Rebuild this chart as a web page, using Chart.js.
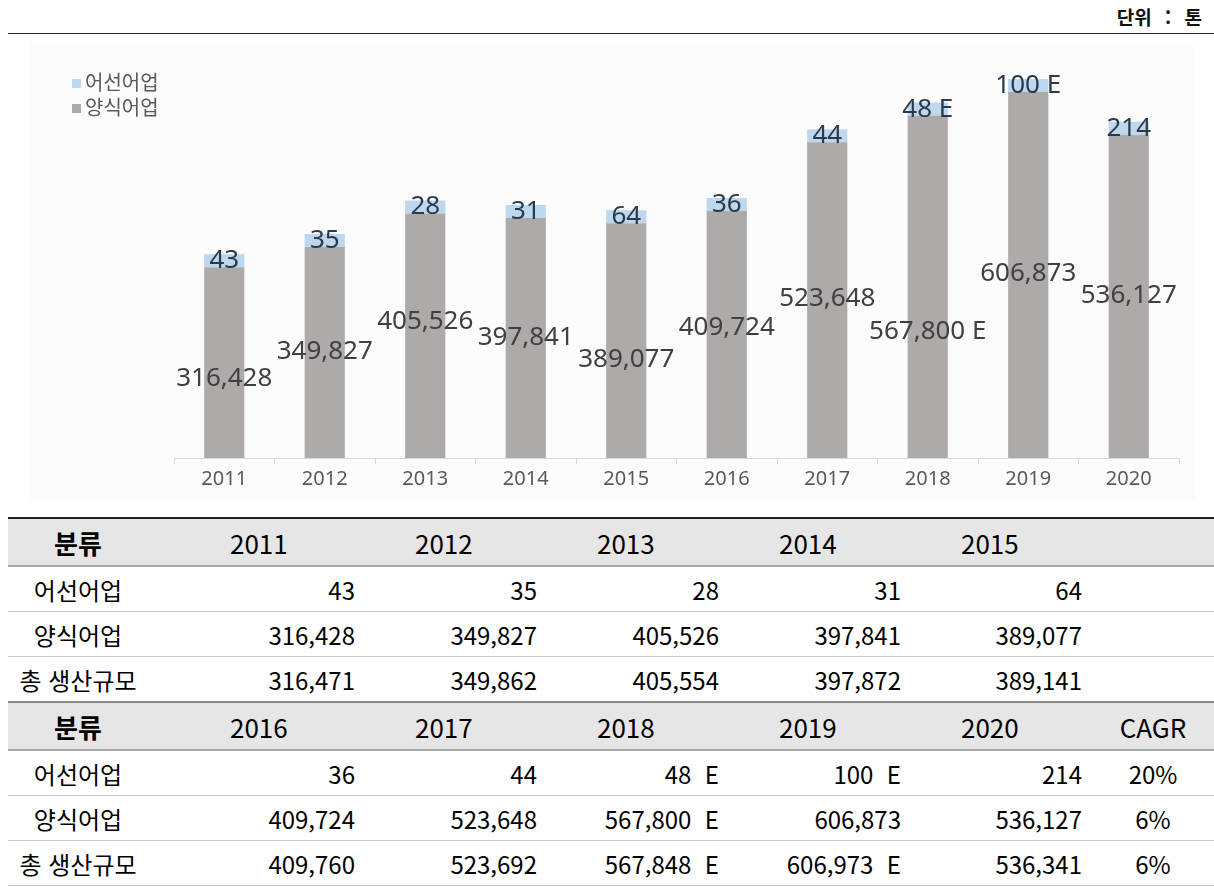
<!DOCTYPE html>
<html lang="ko">
<head>
<meta charset="utf-8">
<script src="https://cdn.jsdelivr.net/npm/chart.js@4.4.1/dist/chart.umd.min.js"></script>
<style>
  html, body { margin: 0; padding: 0; background: #fff; }
  body { width: 1214px; height: 886px; position: relative; overflow: hidden; font-family: "Noto Sans CJK KR", "Noto Sans", sans-serif; }
  #unit { position: absolute; right: 12px; top: 3px; font-size: 19px; font-weight: bold; color: #111; word-spacing: 8px; }
  #rule { position: absolute; left: 8px; right: 0; top: 33px; border-top: 1.5px solid #222; }
  #box { position: absolute; left: 30px; top: 43px; width: 1165px; height: 457px; background: #fcfcfc; }
  #legend { position: absolute; left: 42px; top: 26px; font-size: 20px; color: #595959; line-height: 25px; }
  #legend span { display: inline-block; width: 9px; height: 9px; margin-right: 4px; vertical-align: 2px; }
  table { position: absolute; left: 8px; top: 517px; width: 1206px; border-collapse: collapse; table-layout: fixed; color: #000; }
  td { height: 44px; padding: 0 10px 0 0; font-size: 24px; text-align: right; border-bottom: 1px solid #c8c8c8; white-space: pre; }
  td.name { text-align: center; padding: 0; }
  tr.head td { background: #e7e6e6; font-size: 26px; text-align: left; padding-left: 50px; height: 46px; border-top: 2px solid #222; border-bottom: 2px solid #a6a6a6; }
  tr.head td.first { padding-left: 82px; }
  tr.head td.name { font-weight: bold; padding: 0; text-align: center; }
  tr.head td.cagr { text-align: center; padding: 0; }
  tr.head2 td { border-top: 2px solid #8a8a8a; }
  td.cagr { text-align: center; padding: 0; }
</style>
</head>
<body>
<div id="unit">단위 : 톤</div>
<div id="rule"></div>
<div id="box">
  <canvas id="chart" width="1165" height="457"></canvas>
  <div id="legend">
    <div><span style="background:#bdd7ee"></span>어선어업</div>
    <div><span style="background:#aeaaaa"></span>양식어업</div>
  </div>
</div>
<table id="tbl">
  <colgroup><col style="width:140px"><col style="width:217px"><col style="width:182px"><col style="width:182px"><col style="width:182px"><col style="width:181px"><col style="width:122px"></colgroup>
  <tbody></tbody>
</table>

<script>
const years = ['2011', '2012', '2013', '2014', '2015', '2016', '2017', '2018', '2019', '2020'];
const fishing = [43, 35, 28, 31, 64, 36, 44, 48, 100, 214];           // 어선어업
const farming = [316428, 349827, 405526, 397841, 389077, 409724, 523648, 567800, 606873, 536127]; // 양식어업
const totals = [316471, 349862, 405554, 397872, 389141, 409760, 523692, 567848, 606973, 536341];
const fishingNote = ['', '', '', '', '', '', '', ' E', ' E', ''];
const farmingNote = ['', '', '', '', '', '', '', ' E', '', ''];
const totalNote = ['', '', '', '', '', '', '', ' E', ' E', ''];
const cagr = ['20%', '6%', '6%'];
// where the 양식어업 value label sits (in tonnes, as placed on the original)
const farmingLabelAt = [132000, 176000, 227000, 200000, 164000, 217000, 265000, 209000, 305000, 269000];

const fmt = v => v.toLocaleString('en-US');

/** 값 라벨 */
const valueLabels = {
    id: 'valueLabels',
    afterDatasetsDraw(chart) {
        const ctx = chart.ctx;
        const y = chart.scales.y;
        ctx.save();
        ctx.textAlign = 'center';
        ctx.textBaseline = 'middle';
        ctx.font = '26px "Noto Sans", sans-serif';
        ctx.fillStyle = '#404040';
        chart.getDatasetMeta(0).data.forEach((bar, i) => {
            ctx.fillText(fmt(farming[i]) + farmingNote[i], bar.x, y.getPixelForValue(farmingLabelAt[i]));
        });
        ctx.fillStyle = '#2b3a4a';
        chart.getDatasetMeta(1).data.forEach((bar, i) => {
            ctx.fillText(fmt(fishing[i]) + fishingNote[i], bar.x, (bar.y + bar.base) / 2);
        });
        ctx.restore();
    }
};

new Chart(document.getElementById('chart'), {
    type: 'bar',
    data: {
        labels: years,
        datasets: [
            {
                label: '양식어업',
                data: farming,
                backgroundColor: '#aeaaaa',
                barPercentage: 0.4,
                categoryPercentage: 1
            },
            {
                label: '어선어업',
                data: fishing,
                backgroundColor: '#bdd7ee',
                barPercentage: 0.4,
                categoryPercentage: 1,
                minBarLength: 13
            }
        ]
    },
    options: {
        responsive: false,
        animation: false,
        layout: { padding: { top: 17, left: 144, right: 16, bottom: 0 } },
        plugins: { legend: { display: false }, tooltip: { enabled: false } },
        scales: {
            x: {
                stacked: true,
                grid: { drawOnChartArea: false, drawTicks: true, tickLength: 6, color: '#d9d9d9', offset: true },
                border: { color: '#d9d9d9' },
                ticks: { color: '#595959', font: { family: '"Noto Sans", sans-serif', size: 20 }, padding: 3 },
                afterFit: scale => { scale.height = 42; }
            },
            y: {
                stacked: true,
                display: false,
                min: 0,
                max: 660000
            }
        }
    },
    plugins: [valueLabels]
});

/** 표 */
const tbody = document.querySelector('#tbl tbody');
function addRow(cells, cls) {
    const tr = document.createElement('tr');
    if (cls) tr.className = cls;
    cells.forEach((c, j) => {
        const td = document.createElement('td');
        td.textContent = c.text;
        if (c.cls) td.className = c.cls;
        tr.appendChild(td);
    });
    tbody.appendChild(tr);
}
[[0, 5, 'head'], [5, 10, 'head head2']].forEach(([a, b, cls], part) => {
    const head = [{ text: '분류', cls: 'name' }];
    years.slice(a, b).forEach((yr, j) => head.push({ text: yr, cls: j === 0 ? 'first' : '' }));
    head.push({ text: part ? 'CAGR' : '', cls: 'cagr' });
    addRow(head, cls);
    const rows = [['어선어업', fishing, fishingNote], ['양식어업', farming, farmingNote], ['총 생산규모', totals, totalNote]];
    rows.forEach(([name, vals, notes], r) => {
        const cells = [{ text: name, cls: 'name' }];
        for (let i = a; i < b; i++) cells.push({ text: fmt(vals[i]) + (notes[i] ? ' ' + notes[i] : '') });
        cells.push({ text: part ? cagr[r] : '', cls: 'cagr' });
        addRow(cells);
    });
});
</script>
</body>
</html>
